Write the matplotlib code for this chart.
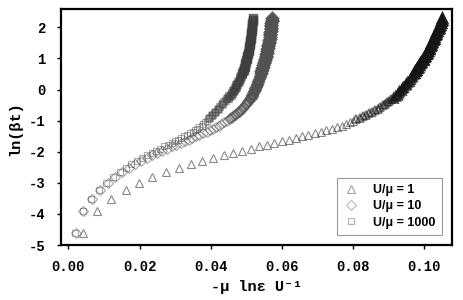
import matplotlib
matplotlib.use("Agg")
import matplotlib.pyplot as plt

plt.rcParams['axes.unicode_minus'] = False

# ln(beta t), shared sampling for the three curves
ln_bt = [-4.61, -3.91, -3.51, -3.22, -3.00, -2.81, -2.66, -2.53, -2.41, -2.30,
         -2.21, -2.12, -2.04, -1.97, -1.90, -1.83, -1.77, -1.71, -1.66, -1.61,
         -1.56, -1.51, -1.46, -1.41, -1.36, -1.31, -1.26, -1.21, -1.16, -1.11,
         -1.06, -1.01, -0.96, -0.91, -0.86, -0.81, -0.76, -0.71, -0.66, -0.61,
         -0.56, -0.51, -0.46, -0.41, -0.36, -0.31, -0.26, -0.21, -0.16, -0.11,
         -0.06, -0.01, 0.04, 0.09, 0.14, 0.19, 0.24, 0.29, 0.34, 0.39,
         0.44, 0.49, 0.54, 0.59, 0.64, 0.69, 0.74, 0.79, 0.84, 0.89,
         0.94, 0.99, 1.04, 1.09, 1.14, 1.19, 1.24, 1.29, 1.34, 1.39,
         1.44, 1.49, 1.54, 1.59, 1.64, 1.69, 1.74, 1.79, 1.84, 1.89,
         1.94, 1.99, 2.04, 2.09, 2.14, 2.19, 2.24, 2.29]

# -mu ln(eps) / U for U/mu = 1
x_u1 = [0.0040, 0.0080, 0.0120, 0.0161, 0.0199, 0.0236, 0.0274, 0.0310, 0.0343, 0.0375,
        0.0407, 0.0436, 0.0463, 0.0489, 0.0512, 0.0536, 0.0557, 0.0578, 0.0599, 0.0621,
        0.0639, 0.0656, 0.0674, 0.0692, 0.0709, 0.0724, 0.0741, 0.0754, 0.0768, 0.0780,
        0.0791, 0.0800, 0.0809, 0.0818, 0.0827, 0.0836, 0.0845, 0.0853, 0.0861, 0.0869,
        0.0876, 0.0883, 0.0889, 0.0895, 0.0901, 0.0906, 0.0912, 0.0917, 0.0922, 0.0926,
        0.0930, 0.0934, 0.0938, 0.0941, 0.0945, 0.0949, 0.0952, 0.0956, 0.0959, 0.0962,
        0.0965, 0.0968, 0.0971, 0.0974, 0.0977, 0.0980, 0.0983, 0.0986, 0.0989, 0.0992,
        0.0995, 0.0997, 0.1000, 0.1002, 0.1005, 0.1007, 0.1009, 0.1012, 0.1014, 0.1016,
        0.1018, 0.1020, 0.1022, 0.1024, 0.1026, 0.1028, 0.1030, 0.1032, 0.1034, 0.1036,
        0.1038, 0.1040, 0.1042, 0.1044, 0.1046, 0.1047, 0.1049, 0.1050]

# U/mu = 10
x_u10 = [0.0022, 0.0042, 0.0067, 0.0089, 0.0110, 0.0130, 0.0150, 0.0169, 0.0187, 0.0204,
         0.0220, 0.0235, 0.0250, 0.0264, 0.0277, 0.0290, 0.0303, 0.0315, 0.0327, 0.0338,
         0.0348, 0.0358, 0.0368, 0.0378, 0.0388, 0.0397, 0.0406, 0.0414, 0.0422, 0.0430,
         0.0438, 0.0446, 0.0453, 0.0459, 0.0465, 0.0471, 0.0476, 0.0481, 0.0486, 0.0490,
         0.0494, 0.0498, 0.0501, 0.0504, 0.0507, 0.0510, 0.0512, 0.0515, 0.0517, 0.0519,
         0.0521, 0.0524, 0.0525, 0.0527, 0.0529, 0.0530, 0.0532, 0.0533, 0.0535, 0.0537,
         0.0538, 0.0540, 0.0541, 0.0542, 0.0544, 0.0545, 0.0547, 0.0548, 0.0549, 0.0550,
         0.0552, 0.0553, 0.0554, 0.0555, 0.0556, 0.0557, 0.0558, 0.0559, 0.0560, 0.0561,
         0.0562, 0.0563, 0.0563, 0.0564, 0.0565, 0.0565, 0.0566, 0.0567, 0.0567, 0.0568,
         0.0568, 0.0569, 0.0569, 0.0570, 0.0570, 0.0571, 0.0571, 0.0572]

# U/mu = 1000
x_u1000 = [0.0019, 0.0040, 0.0064, 0.0086, 0.0106, 0.0126, 0.0144, 0.0161, 0.0177, 0.0193,
           0.0207, 0.0221, 0.0234, 0.0246, 0.0258, 0.0269, 0.0280, 0.0290, 0.0299, 0.0308,
           0.0317, 0.0326, 0.0334, 0.0342, 0.0350, 0.0356, 0.0362, 0.0368, 0.0374, 0.0379,
           0.0384, 0.0389, 0.0394, 0.0398, 0.0403, 0.0407, 0.0411, 0.0415, 0.0419, 0.0423,
           0.0427, 0.0431, 0.0435, 0.0438, 0.0442, 0.0445, 0.0449, 0.0452, 0.0456, 0.0459,
           0.0462, 0.0465, 0.0468, 0.0470, 0.0472, 0.0474, 0.0476, 0.0479, 0.0481, 0.0483,
           0.0485, 0.0487, 0.0488, 0.0490, 0.0492, 0.0493, 0.0495, 0.0496, 0.0497, 0.0498,
           0.0499, 0.0501, 0.0502, 0.0503, 0.0504, 0.0505, 0.0506, 0.0507, 0.0507, 0.0508,
           0.0509, 0.0510, 0.0510, 0.0511, 0.0512, 0.0512, 0.0513, 0.0514, 0.0514, 0.0515,
           0.0515, 0.0516, 0.0516, 0.0517, 0.0517, 0.0518, 0.0518, 0.0519]

labels = ["U/\u03bc = 1", "U/\u03bc = 10", "U/\u03bc = 1000"]
xticks = [0.00, 0.02, 0.04, 0.06, 0.08, 0.10]
yticks = [-5, -4, -3, -2, -1, 0, 1, 2]

mono = ['Liberation Mono', 'DejaVu Sans Mono']

fig = plt.figure(figsize=(4.63, 3.0), dpi=100)
ax = fig.add_axes([0.1318, 0.1833, 0.8438, 0.7867])

series = [
    (x_u1, '^', 5.3, '#151515', 0.5),
    (x_u10, 'D', 4.6, '#525252', 0.5),
    (x_u1000, 's', 4.8, '#3e3e3e', 0.42),
]
# sampling gets dense toward the top, where the markers pile up into a band:
# (start, stop, edge width, alpha factor)
segments = [(0, 32, 0.8, 1.0), (32, 46, 1.3, 1.2), (46, 62, 1.9, 1.5),
            (62, len(ln_bt), 2.4, 1.8)]
for (xs, mk, ms, col, al), lab in zip(series, labels):
    for i0, i1, mew, f in segments:
        ax.plot(xs[i0:i1], ln_bt[i0:i1], ls='none', marker=mk, ms=ms, mfc='none',
                mec=col, mew=mew, alpha=min(al * f, 1.0),
                label=lab if i0 == 0 else None)

ax.set_xlim(-0.0021, 0.1077)
ax.set_ylim(-5, 2.59)
ax.set_xticks(xticks)
ax.set_xticklabels(["%.2f" % v for v in xticks])
ax.set_yticks(yticks)
ax.set_yticklabels([str(v) for v in yticks])
ax.tick_params(direction='out', length=3, width=1, pad=8)
for lab in ax.get_xticklabels() + ax.get_yticklabels():
    lab.set_family(mono)
    lab.set_fontweight('bold')
    lab.set_fontsize(10)
for sp in ax.spines.values():
    sp.set_linewidth(1.6)

ax.set_xlabel("-\u03bc ln\u03b5 U\u207b\u00b9", family=mono, fontweight='bold', fontsize=11)
ax.set_ylabel("ln(\u03b2t)", family=mono, fontweight='bold', fontsize=11)
ax.xaxis.set_label_coords(0.5, -0.15)
ax.yaxis.set_label_coords(-0.10, 0.494)

leg = ax.legend(loc='lower right', frameon=True, fancybox=False, borderaxespad=0.8,
                prop={'family': 'Liberation Sans', 'weight': 'bold', 'size': 9},
                handlelength=1.2, handletextpad=1.2, labelspacing=0.35,
                borderpad=0.5, markerscale=1.0)
leg.get_frame().set_edgecolor('#808080')
leg.get_frame().set_linewidth(0.8)
for h in leg.legend_handles:
    h.set_alpha(0.4)

fig.savefig("out.png", dpi=100)
